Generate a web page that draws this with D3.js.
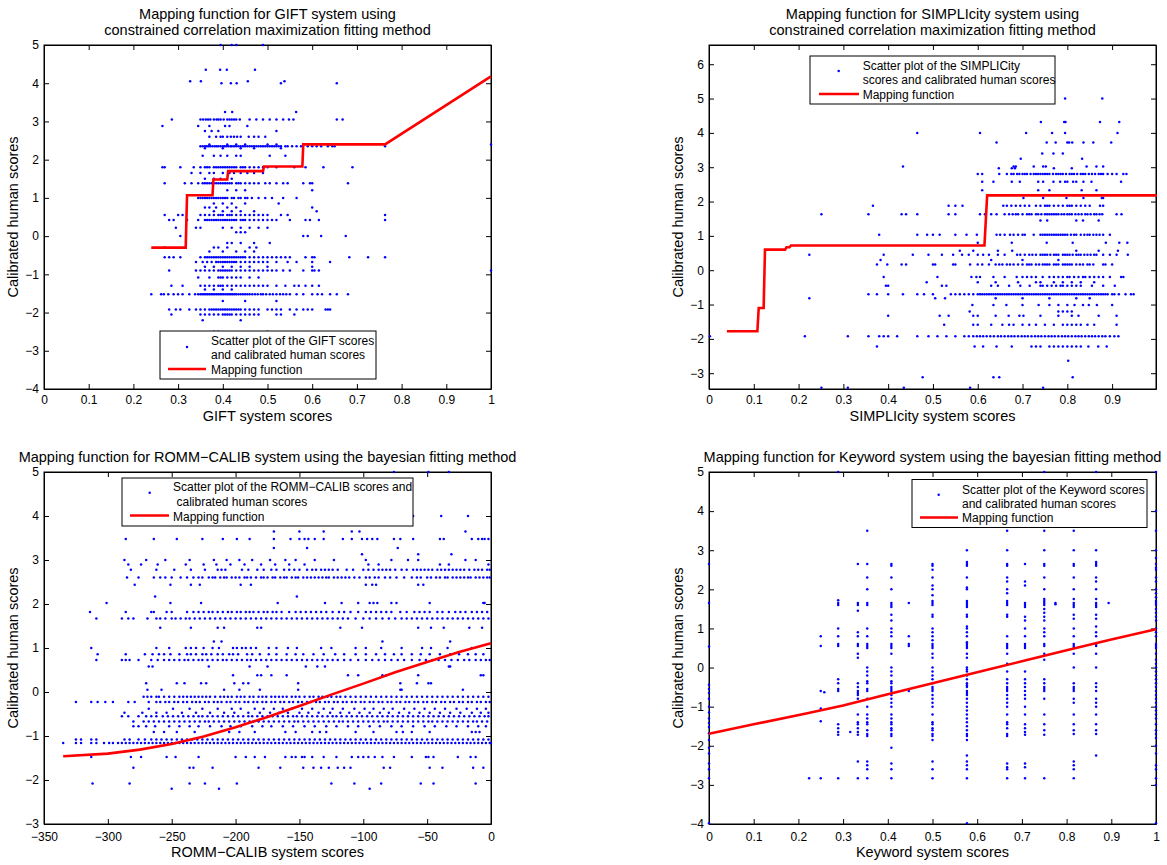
<!DOCTYPE html>
<html>
<head>
<meta charset="utf-8">
<script src="https://cdn.jsdelivr.net/npm/d3@7"></script>
<style>
body { margin: 0; background: #fff; }
text { font-family: "Liberation Sans", Arial, Helvetica, sans-serif; }
</style>
</head>
<body>
<script>
// ---------- GIFT panel (rows of points sharing one calibrated score) ----------
const giftXTicks = [0, 0.1, 0.2, 0.3, 0.4, 0.5, 0.6, 0.7, 0.8, 0.9, 1];
const giftYTicks = [-4, -3, -2, -1, 0, 1, 2, 3, 4, 5];
const giftRowY = [5, 4.35, 4.05, 4.0, 3.25, 3.05, 2.88, 2.75, 2.6, 2.4, 2.35, 2.3, 2.1, 1.8, 1.65, 1.5, 1.38, 1.2, 1.0, 0.85, 0.75, 0.65, 0.55, 0.42, 0.22, 0.1, 0, -0.18, -0.3, -0.4, -0.55, -0.68, -0.8, -0.9, -1.08, -1.3, -1.4, -1.52, -1.7, -1.92, -2.05, -2.2, -2.5];
const giftRowX = [
  [0.395, 0.42, 0.43, 0.49],
  [0.362, 0.394, 0.409, 0.472],
  [0.327, 0.351, 0.456, 0.538],
  [0.397, 0.418, 0.431, 0.53, 0.655],
  [0.405, 0.421, 0.564],
  [0.286, 0.35, 0.356, 0.362, 0.367, 0.372, 0.38, 0.386, 0.39, 0.395, 0.402, 0.41, 0.415, 0.42, 0.425, 0.43, 0.438, 0.46, 0.475, 0.49, 0.505, 0.52, 0.535, 0.548, 0.558, 0.655, 0.668],
  [0.265, 0.345, 0.37, 0.405, 0.415, 0.455],
  [0.36, 0.375, 0.39, 0.52],
  [0.37, 0.385, 0.395, 0.4, 0.41, 0.418, 0.425, 0.432, 0.44, 0.458, 0.47, 0.48, 0.495],
  [0.37, 0.41, 0.43, 0.45, 0.5, 0.52, 0.6, 0.64, 1.0],
  [0.35, 0.355, 0.36, 0.364, 0.368, 0.372, 0.377, 0.382, 0.386, 0.39, 0.395, 0.4, 0.404, 0.408, 0.412, 0.417, 0.42, 0.425, 0.43, 0.435, 0.44, 0.445, 0.45, 0.455, 0.46, 0.465, 0.47, 0.475, 0.48, 0.485, 0.49, 0.495, 0.5, 0.505, 0.51, 0.515, 0.52, 0.525, 0.53, 0.54, 0.545, 0.555, 0.565, 0.575, 0.59, 0.6, 0.61, 0.62, 0.635, 0.645, 0.65, 0.763],
  [0.36, 0.4, 0.44, 0.47, 0.53],
  [0.355, 0.38, 0.395, 0.41, 0.43, 0.44, 0.505, 0.54],
  [0.265, 0.27, 0.305, 0.335, 0.35, 0.36, 0.365, 0.37, 0.38, 0.385, 0.39, 0.395, 0.4, 0.405, 0.41, 0.415, 0.42, 0.425, 0.43, 0.44, 0.445, 0.45, 0.46, 0.47, 0.48, 0.49, 0.5, 0.52, 0.56, 0.585, 0.625, 0.69],
  [0.33, 0.35, 0.37, 0.38, 0.4, 0.415, 0.425, 0.44, 0.455, 0.47, 0.49],
  [0.36, 0.38, 0.395, 0.42],
  [0.27, 0.315, 0.33, 0.345, 0.355, 0.36, 0.365, 0.37, 0.375, 0.38, 0.385, 0.39, 0.395, 0.4, 0.405, 0.41, 0.415, 0.42, 0.43, 0.435, 0.44, 0.45, 0.46, 0.47, 0.48, 0.495, 0.505, 0.52, 0.535, 0.545, 0.58, 0.595, 0.6, 0.68],
  [0.41, 0.43, 0.45, 0.6],
  [0.345, 0.35, 0.355, 0.36, 0.365, 0.37, 0.375, 0.38, 0.385, 0.39, 0.395, 0.4, 0.405, 0.41, 0.42, 0.425, 0.435, 0.44, 0.45, 0.455, 0.465, 0.48, 0.495, 0.51, 0.535, 0.565],
  [0.38, 0.4, 0.42, 0.45, 0.525],
  [0.36, 0.37, 0.385, 0.41, 0.43, 0.6],
  [0.38, 0.4, 0.42, 0.44, 0.47, 0.61],
  [0.27, 0.3, 0.31, 0.35, 0.36, 0.37, 0.38, 0.39, 0.395, 0.4, 0.41, 0.415, 0.42, 0.43, 0.44, 0.45, 0.46, 0.47, 0.48, 0.49, 0.5, 0.53, 0.545, 0.763],
  [0.28, 0.29, 0.32, 0.345, 0.36, 0.365, 0.37, 0.375, 0.38, 0.385, 0.39, 0.395, 0.4, 0.405, 0.41, 0.415, 0.42, 0.425, 0.43, 0.44, 0.445, 0.45, 0.46, 0.47, 0.48, 0.49, 0.5, 0.51, 0.52, 0.55, 0.585, 0.595, 0.615, 0.763],
  [0.295, 0.34, 0.35, 0.4, 0.42, 0.44, 0.46, 0.48, 0.5],
  [0.43, 0.44, 0.45],
  [0.305, 0.58, 0.59, 0.62, 0.675],
  [0.41, 0.42, 0.44, 0.47, 0.505],
  [0.27, 0.38, 0.39, 0.41, 0.46, 0.475],
  [0.37, 0.4, 0.43, 0.45, 0.47],
  [0.27, 0.28, 0.29, 0.305, 0.35, 0.36, 0.365, 0.37, 0.375, 0.38, 0.385, 0.39, 0.395, 0.4, 0.405, 0.41, 0.415, 0.42, 0.425, 0.43, 0.435, 0.44, 0.445, 0.45, 0.46, 0.47, 0.48, 0.49, 0.5, 0.51, 0.52, 0.53, 0.54, 0.55, 0.585, 0.6, 0.605, 0.683, 0.725, 0.763],
  [0.34, 0.355, 0.365, 0.375, 0.385, 0.39, 0.395, 0.4, 0.405, 0.41, 0.415, 0.42, 0.425, 0.43, 0.44, 0.45, 0.46, 0.47, 0.48, 0.49, 0.5, 0.52, 0.545, 0.565, 0.6, 0.64],
  [0.36, 0.38, 0.4, 0.42, 0.44, 0.46, 0.5, 0.6],
  [0.28, 0.34, 0.35, 0.36, 0.37, 0.38, 0.39, 0.395, 0.4, 0.405, 0.41, 0.415, 0.42, 0.43, 0.44, 0.45, 0.46, 0.47, 0.48, 0.49, 0.5, 0.51, 0.52, 0.535, 0.55, 0.58, 0.6, 0.605, 0.615, 1.0],
  [0.345, 0.37, 0.39, 0.395, 0.4, 0.41, 0.42, 0.43, 0.44, 0.46, 0.48],
  [0.285, 0.31, 0.35, 0.36, 0.37, 0.38, 0.39, 0.395, 0.4, 0.41, 0.42, 0.43, 0.44, 0.45, 0.46, 0.47, 0.48, 0.49, 0.5, 0.52, 0.54, 0.56, 0.57, 0.585, 0.6, 0.615],
  [0.36, 0.38, 0.4, 0.42],
  [0.24, 0.262, 0.268, 0.278, 0.29, 0.3, 0.31, 0.325, 0.338, 0.345, 0.35, 0.354, 0.358, 0.362, 0.366, 0.37, 0.374, 0.378, 0.382, 0.386, 0.39, 0.394, 0.398, 0.402, 0.406, 0.41, 0.414, 0.418, 0.422, 0.426, 0.43, 0.435, 0.44, 0.445, 0.45, 0.455, 0.46, 0.466, 0.472, 0.478, 0.485, 0.49, 0.497, 0.505, 0.512, 0.52, 0.528, 0.535, 0.542, 0.55, 0.565, 0.58, 0.6, 0.612, 0.622, 0.64, 0.655, 0.68],
  [0.4, 0.45, 0.52],
  [0.28, 0.295, 0.305, 0.325, 0.34, 0.35, 0.36, 0.37, 0.375, 0.38, 0.385, 0.39, 0.395, 0.4, 0.405, 0.41, 0.415, 0.42, 0.425, 0.43, 0.435, 0.44, 0.45, 0.46, 0.47, 0.48, 0.5, 0.51, 0.52, 0.53, 0.55, 0.565, 0.58, 0.59, 0.6, 0.63, 0.635, 0.64],
  [0.285, 0.35, 0.36, 0.37, 0.38, 0.39, 0.4, 0.405, 0.41, 0.415, 0.42, 0.43, 0.44, 0.45, 0.46, 0.47, 0.48, 0.52, 0.53, 0.56],
  [0.355, 0.44],
  [0.38, 0.39, 0.5]
];
const giftMapX = [0.24, 0.317, 0.32, 0.377, 0.379, 0.41, 0.412, 0.49, 0.492, 0.578, 0.58, 0.763, 1.0];
const giftMapY = [-0.3, -0.3, 1.07, 1.07, 1.48, 1.48, 1.7, 1.7, 1.82, 1.82, 2.4, 2.4, 4.18];

// ---------- SIMPLIcity panel ----------
const simpXTicks = [0, 0.1, 0.2, 0.3, 0.4, 0.5, 0.6, 0.7, 0.8, 0.9];
const simpYTicks = [-3, -2, -1, 0, 1, 2, 3, 4, 5, 6];
const simpRowY = [5.0, 4.32, 4.0, 3.72, 3.4, 3.25, 3.02, 2.97, 2.8, 2.58, 2.33, 2.1, 1.88, 1.63, 1.45, 1.03, 0.8, 0.57, 0.45, 0.3, 0.17, -0.2, -0.35, -0.45, -0.7, -0.82, -1.01, -1.2, -1.33, -1.59, -1.92, -2.22, -2.64, -3.12, -3.42];
const simpRowX = [
  [0.795, 0.878],
  [0.741, 0.793, 0.796, 0.873, 0.916],
  [0.465, 0.605, 0.708, 0.766, 0.795, 0.912],
  [0.642, 0.754, 0.774, 0.8, 0.804, 0.811, 0.836, 0.858, 0.898],
  [0.744, 0.769, 0.79],
  [0.696, 0.833],
  [0.433, 0.68, 0.685, 0.725, 0.746, 0.752, 0.843, 0.865, 0.88],
  [0.647, 0.676, 0.683, 0.77, 0.81],
  [0.6, 0.61, 0.648, 0.665, 0.675, 0.68, 0.688, 0.693, 0.7, 0.705, 0.71, 0.718, 0.725, 0.73, 0.735, 0.74, 0.745, 0.75, 0.755, 0.76, 0.768, 0.775, 0.78, 0.785, 0.79, 0.797, 0.805, 0.81, 0.815, 0.822, 0.83, 0.835, 0.84, 0.848, 0.855, 0.862, 0.87, 0.875, 0.88, 0.89, 0.9, 0.91, 0.925, 0.932],
  [0.61, 0.635, 0.676, 0.694, 0.735, 0.746, 0.769, 0.784, 0.795, 0.8, 0.813, 0.82, 0.836, 0.854, 0.92],
  [0.61, 0.735, 0.76, 0.832, 0.865],
  [0.702, 0.746, 0.798, 0.836, 0.877, 0.88],
  [0.366, 0.535, 0.55, 0.566, 0.657, 0.665, 0.675, 0.685, 0.695, 0.705, 0.715, 0.73, 0.74, 0.75, 0.755, 0.76, 0.77, 0.78, 0.79, 0.8, 0.805, 0.81, 0.82, 0.83, 0.84, 0.85, 0.873, 0.88],
  [0.251, 0.356, 0.43, 0.44, 0.465, 0.535, 0.55, 0.605, 0.616, 0.63, 0.642, 0.66, 0.67, 0.678, 0.685, 0.69, 0.7, 0.71, 0.715, 0.72, 0.73, 0.735, 0.742, 0.75, 0.755, 0.76, 0.765, 0.77, 0.775, 0.78, 0.787, 0.793, 0.8, 0.805, 0.81, 0.818, 0.825, 0.832, 0.84, 0.845, 0.852, 0.86, 0.865, 0.872, 0.878, 0.91, 0.921],
  [0.74, 0.755, 0.82, 0.835, 0.87],
  [0.38, 0.465, 0.487, 0.5, 0.515, 0.55, 0.575, 0.598, 0.642, 0.65, 0.66, 0.672, 0.68, 0.69, 0.7, 0.705, 0.725, 0.74, 0.745, 0.75, 0.755, 0.76, 0.765, 0.77, 0.775, 0.78, 0.785, 0.79, 0.795, 0.8, 0.808, 0.815, 0.82, 0.83, 0.838, 0.845, 0.85, 0.858, 0.865, 0.872, 0.88, 0.895],
  [0.6, 0.676, 0.754, 0.812, 0.886, 0.916, 0.934],
  [0.56, 0.59, 0.645, 0.677, 0.82, 0.87, 0.913],
  [0.224, 0.39, 0.455, 0.49, 0.52, 0.545, 0.565, 0.58, 0.6, 0.612, 0.625, 0.645, 0.66, 0.688, 0.695, 0.705, 0.715, 0.722, 0.73, 0.74, 0.745, 0.75, 0.755, 0.762, 0.77, 0.775, 0.78, 0.79, 0.795, 0.8, 0.805, 0.812, 0.82, 0.825, 0.83, 0.838, 0.845, 0.852, 0.86, 0.865, 0.88, 0.895, 0.91, 0.935],
  [0.383, 0.63, 0.7, 0.78],
  [0.375, 0.398, 0.43, 0.44, 0.5, 0.505, 0.545, 0.55, 0.583, 0.6, 0.61, 0.625, 0.64, 0.648, 0.655, 0.665, 0.672, 0.68, 0.69, 0.7, 0.71, 0.715, 0.72, 0.73, 0.737, 0.745, 0.75, 0.755, 0.76, 0.77, 0.775, 0.78, 0.79, 0.795, 0.8, 0.805, 0.81, 0.82, 0.828, 0.835, 0.845, 0.85, 0.858, 0.88, 0.885, 0.9],
  [0.39, 0.51, 0.586, 0.597, 0.605, 0.635, 0.66, 0.687, 0.7, 0.71, 0.72, 0.73, 0.745, 0.76, 0.77, 0.78, 0.79, 0.8, 0.805, 0.815, 0.825, 0.835, 0.84, 0.85, 0.86, 0.87, 0.88, 0.895, 0.92, 0.925],
  [0.486, 0.6, 0.64, 0.69, 0.73, 0.74, 0.77, 0.79, 0.81, 0.83, 0.86],
  [0.395, 0.4, 0.52, 0.53, 0.63, 0.645, 0.67, 0.695, 0.716, 0.74, 0.745, 0.755, 0.765, 0.775, 0.785, 0.79, 0.8, 0.81, 0.82, 0.83, 0.855, 0.88, 0.906],
  [0.356, 0.375, 0.4, 0.433, 0.465, 0.48, 0.5, 0.54, 0.55, 0.56, 0.57, 0.58, 0.59, 0.6, 0.605, 0.61, 0.615, 0.62, 0.625, 0.63, 0.635, 0.64, 0.645, 0.65, 0.655, 0.66, 0.665, 0.67, 0.675, 0.68, 0.685, 0.69, 0.695, 0.7, 0.705, 0.71, 0.715, 0.72, 0.725, 0.73, 0.735, 0.74, 0.745, 0.75, 0.755, 0.76, 0.765, 0.77, 0.775, 0.78, 0.785, 0.79, 0.795, 0.8, 0.805, 0.81, 0.815, 0.82, 0.825, 0.83, 0.835, 0.84, 0.845, 0.85, 0.855, 0.86, 0.865, 0.87, 0.875, 0.88, 0.885, 0.89, 0.9, 0.905, 0.915, 0.93, 0.942, 0.948],
  [0.224, 0.505, 0.527, 0.64, 0.7, 0.76, 0.82, 0.85],
  [0.588, 0.635, 0.664, 0.7, 0.736, 0.76, 0.78, 0.8, 0.816, 0.835, 0.848, 0.866, 0.9],
  [0.582, 0.78, 0.79, 0.8, 0.81],
  [0.4, 0.515, 0.535, 0.59, 0.6, 0.64, 0.669, 0.693, 0.702, 0.74, 0.78, 0.81, 0.825, 0.87, 0.91],
  [0.525, 0.59, 0.6, 0.63, 0.655, 0.67, 0.68, 0.7, 0.715, 0.73, 0.75, 0.77, 0.79, 0.8, 0.81, 0.82, 0.83, 0.845, 0.86, 0.91],
  [0.002, 0.214, 0.31, 0.356, 0.38, 0.39, 0.4, 0.42, 0.465, 0.49, 0.51, 0.53, 0.55, 0.57, 0.58, 0.59, 0.598, 0.605, 0.612, 0.62, 0.628, 0.636, 0.645, 0.652, 0.66, 0.668, 0.675, 0.682, 0.69, 0.698, 0.705, 0.712, 0.72, 0.728, 0.735, 0.742, 0.75, 0.758, 0.765, 0.772, 0.78, 0.788, 0.795, 0.802, 0.81, 0.818, 0.825, 0.832, 0.84, 0.848, 0.855, 0.862, 0.87, 0.878, 0.885, 0.895, 0.905, 0.914],
  [0.375, 0.593, 0.612, 0.642, 0.676, 0.72, 0.73, 0.74, 0.76, 0.77, 0.78, 0.79, 0.8, 0.81, 0.82, 0.83, 0.847, 0.869, 0.888],
  [0.802],
  [0.477, 0.635, 0.648, 0.812],
  [0.251, 0.31, 0.435, 0.583, 0.746]
];
const simpMapX = [0.04, 0.108, 0.111, 0.122, 0.125, 0.17, 0.173, 0.18, 0.183, 0.615, 0.621, 1.0];
const simpMapY = [-1.78, -1.78, -1.1, -1.1, 0.6, 0.6, 0.67, 0.67, 0.72, 0.72, 2.18, 2.18];

// ---------- ROMM-CALIB panel ----------
const rommXTicks = [-350, -300, -250, -200, -150, -100, -50, 0];
const rommYTicks = [-3, -2, -1, 0, 1, 2, 3, 4, 5];
const rommRowY = [5.0, 4.0, 3.65, 3.48, 3.27, 3.13, 3.0, 2.9, 2.78, 2.6, 2.44, 2.17, 2.02, 1.82, 1.67, 1.46, 1.15, 1.0, 0.86, 0.73, 0.58, 0.38, 0.2, 0.05, -0.11, -0.23, -0.38, -0.47, -0.55, -0.67, -0.78, -0.91, -1.08, -1.16, -1.48, -1.72, -2.08, -2.2];
const rommRowX = [
  [-76, -49, -33],
  [-61, -39, -18],
  [-170, -150, -131, -109, -103, -20],
  [-286, -264, -246, -226, -210, -199, -189, -170, -157, -150, -146, -143, -138, -131, -116, -109, -101, -97, -93, -89, -76, -71, -61, -40, -37, -15, -10, -7, -5, -2],
  [-170, -144, -73],
  [-101, -57, -31],
  [-287, -270, -255, -236, -217, -207, -197, -187, -173, -161, -153, -138, -123, -98, -78, -65, -57, -20, -12],
  [-284, -274, -261, -239, -225, -215, -204, -193, -180, -169, -158, -146, -96, -88, -40, -33, -2],
  [-282, -262, -248, -235, -224, -214, -211, -208, -195, -190, -183, -178, -172, -168, -162, -158, -154, -150, -144, -140, -137, -133, -130, -127, -124, -120, -113, -108, -100, -96, -92, -88, -85, -82, -79, -75, -70, -66, -61, -58, -55, -52, -49, -46, -42, -39, -36, -33, -30, -27, -24, -21, -17, -13, -10, -7, -3, -1],
  [-285, -276, -264, -259, -255, -250, -243, -238, -233, -229, -226, -221, -218, -216, -212, -209, -207, -203, -200, -197, -193, -191, -188, -184, -180, -178, -175, -171, -169, -165, -162, -160, -156, -153, -151, -147, -144, -141, -138, -135, -132, -129, -127, -123, -120, -117, -114, -111, -107, -103, -98, -95, -91, -88, -83, -79, -74, -68, -62, -58, -55, -50, -47, -43, -40, -36, -34, -30, -27, -24, -21, -18, -16, -12, -9, -6, -3, -1],
  [-279, -251, -235, -228, -196, -188, -98, -93, -90, -57, -53],
  [-263, -152],
  [-301, -251, -227, -167, -130, -117, -104, -95, -92, -89, -78, -74, -48, -6, -5],
  [-314, -286, -266, -264, -254, -250, -238, -233, -229, -225, -221, -218, -214, -210, -206, -203, -199, -196, -192, -189, -186, -182, -178, -175, -171, -168, -164, -158, -153, -149, -145, -141, -137, -133, -129, -124, -119, -115, -110, -104, -98, -94, -90, -86, -82, -78, -71, -66, -60, -56, -52, -48, -42, -38, -33, -28, -24, -20, -15, -11, -7, -3],
  [-309, -289, -284, -280, -269, -262, -259, -255, -250, -247, -243, -239, -236, -232, -228, -224, -220, -216, -212, -208, -204, -200, -196, -192, -188, -184, -180, -176, -172, -168, -164, -160, -156, -152, -148, -144, -140, -136, -132, -128, -124, -120, -116, -112, -106, -100, -95, -90, -85, -80, -75, -70, -66, -62, -58, -54, -50, -46, -42, -38, -34, -30, -26, -22, -18, -14, -10, -6, -2],
  [-259, -235, -214, -209, -183, -180, -118, -101, -57, -47, -37, -17, -7],
  [-217, -211, -85, -32],
  [-313, -262, -252, -239, -235, -231, -225, -218, -213, -202, -199, -195, -192, -188, -184, -174, -168, -159, -152, -133, -125, -106, -98, -86, -70, -54, -47, -34, -15],
  [-308, -286, -271, -265, -260, -256, -251, -244, -238, -235, -231, -226, -223, -219, -214, -210, -205, -202, -198, -191, -187, -181, -174, -168, -160, -153, -147, -139, -131, -122, -115, -106, -98, -90, -83, -76, -70, -62, -55, -48, -40, -32, -25, -18, -12, -6],
  [-309, -289, -286, -283, -276, -266, -261, -256, -252, -248, -244, -240, -237, -233, -229, -226, -222, -218, -214, -210, -207, -203, -199, -195, -191, -188, -184, -180, -176, -172, -168, -164, -160, -156, -152, -148, -144, -140, -136, -132, -128, -124, -120, -115, -110, -104, -98, -93, -88, -83, -78, -73, -68, -62, -56, -51, -46, -41, -36, -31, -26, -21, -17, -12, -8, -4, -1],
  [-268, -265, -221, -189, -175, -145, -136, -130, -33, -32],
  [-202, -183, -180, -172, -160, -112, -104, -85, -82, -57, -8, -6],
  [-270, -246, -240, -227, -223, -201, -194, -190, -151, -71, -58, -49, -47],
  [-269, -258, -209, -197, -181, -151, -71, -70, -22],
  [-272, -269, -266, -262, -260, -256, -252, -248, -244, -241, -238, -235, -232, -229, -226, -223, -220, -216, -212, -209, -206, -203, -199, -196, -193, -189, -186, -182, -179, -176, -172, -169, -166, -163, -160, -156, -153, -150, -146, -142, -139, -135, -132, -128, -125, -121, -118, -114, -110, -106, -102, -98, -94, -90, -86, -82, -78, -74, -70, -66, -62, -58, -54, -50, -46, -42, -38, -34, -30, -26, -22, -18, -14, -10, -6, -2],
  [-325, -313, -308, -302, -296, -284, -279, -268, -262, -259, -255, -252, -248, -245, -241, -238, -234, -231, -228, -224, -221, -217, -214, -211, -207, -204, -200, -197, -193, -190, -186, -183, -179, -176, -172, -169, -165, -162, -158, -155, -151, -148, -144, -141, -137, -134, -130, -127, -123, -120, -116, -113, -109, -106, -102, -99, -95, -92, -88, -85, -81, -78, -74, -71, -67, -64, -60, -57, -53, -50, -46, -43, -39, -36, -32, -29, -25, -22, -18, -15, -11, -8, -4, -1],
  [-268, -249, -236, -226, -214, -203, -196, -185, -178, -170, -163, -156, -148, -140, -131, -124, -116, -107, -99, -92, -84, -77, -68, -60, -52, -44, -36, -27, -19, -11, -4],
  [-287, -273, -262, -254, -242, -231, -220, -209, -201, -190, -181, -173, -166, -159, -150, -143, -135, -126, -118, -111, -103, -95, -87, -80, -72, -64, -56, -48, -40, -32, -24, -15, -8, -2],
  [-289, -284, -276, -270, -266, -262, -257, -253, -249, -245, -241, -237, -233, -229, -226, -222, -218, -214, -210, -206, -202, -198, -194, -190, -187, -183, -179, -175, -171, -167, -163, -159, -155, -152, -148, -144, -140, -136, -132, -128, -124, -121, -117, -113, -109, -105, -101, -97, -93, -89, -85, -81, -77, -73, -69, -65, -61, -57, -53, -49, -45, -41, -37, -33, -29, -25, -21, -17, -13, -9, -5, -2],
  [-280, -272, -268, -264, -260, -256, -252, -248, -244, -240, -236, -232, -228, -224, -221, -217, -213, -209, -205, -201, -197, -193, -189, -186, -182, -178, -174, -170, -166, -162, -158, -154, -151, -147, -143, -139, -135, -131, -127, -123, -119, -116, -112, -108, -104, -100, -96, -92, -88, -84, -81, -77, -73, -69, -65, -61, -57, -53, -49, -46, -42, -38, -34, -30, -26, -22, -18, -14, -11, -7, -3],
  [-280, -276, -270, -263, -252, -244, -236, -229, -220, -211, -204, -196, -187, -179, -172, -163, -155, -146, -138, -129, -121, -112, -104, -95, -87, -78, -70, -61, -52, -44, -35, -27, -18, -10, -4],
  [-264, -256, -246, -232, -205, -197, -185, -161, -153, -140, -134, -129, -106, -92, -74, -69, -62, -48, -15, -12, -9],
  [-325, -321, -313, -309, -287, -283, -276, -271, -266, -262, -258, -254, -250, -246, -242, -238, -234, -230, -226, -222, -218, -214, -210, -206, -202, -198, -194, -190, -186, -182, -178, -174, -170, -166, -162, -158, -154, -150, -146, -142, -138, -134, -130, -126, -122, -118, -114, -110, -106, -102, -98, -94, -90, -86, -82, -78, -74, -70, -66, -62, -58, -54, -50, -46, -42, -38, -34, -30, -26, -22, -18, -14, -10, -6, -2],
  [-335, -325, -321, -313, -309, -303, -299, -296, -292, -289, -286, -283, -280, -277, -274, -271, -268, -265, -262, -259, -256, -253, -250, -247, -244, -241, -238, -235, -232, -229, -226, -223, -220, -217, -214, -211, -208, -205, -202, -199, -196, -193, -190, -187, -184, -181, -178, -175, -172, -169, -166, -163, -160, -157, -154, -151, -148, -145, -142, -139, -136, -133, -130, -127, -124, -121, -118, -115, -112, -109, -106, -103, -100, -97, -94, -91, -88, -85, -82, -79, -76, -73, -70, -67, -64, -61, -58, -55, -52, -49, -46, -43, -40, -37, -34, -31, -28, -25, -22, -19, -16, -13, -10, -7, -4, -1, 0],
  [-313, -282, -274, -254, -247, -229, -200, -192, -185, -177, -161, -156, -153, -148, -146, -140, -131, -121, -109, -104, -100, -96, -91, -85, -76, -62, -51, -49, -45, -26, -16, -12],
  [-280, -236, -233, -218, -182, -165, -147, -139, -133, -127, -120, -115, -110, -84, -79, -48, -38, -14, -6],
  [-312, -283, -236, -224, -199, -125, -107, -86, -55, -45, -12],
  [-250, -213, -95]
];
const rommMapX = [-335, -300, -275, -250, -225, -200, -175, -150, -125, -100, -75, -50, -25, 0];
const rommMapY = [-1.46, -1.40, -1.31, -1.18, -1.01, -0.80, -0.57, -0.32, -0.06, 0.19, 0.45, 0.68, 0.91, 1.11];

// ---------- Keyword panel (columns of points sharing one keyword score) ----------
const kwXTicks = [0, 0.1, 0.2, 0.3, 0.4, 0.5, 0.6, 0.7, 0.8, 0.9, 1];
const kwYTicks = [-4, -3, -2, -1, 0, 1, 2, 3, 4, 5];
const kwColX = [0, 0.224, 0.25, 0.258, 0.289, 0.316, 0.333, 0.354, 0.408, 0.447, 0.5, 0.577, 0.667, 0.707, 0.75, 0.775, 0.816, 0.866, 0.894, 1];
const kwColY = [
  [2.65, 1.65, 0.54, -0.44, -0.55, -0.65, -0.8, -1.0, -1.15, -1.3, -1.42, -1.52, -1.68, -1.85, -2.05, -2.2, -2.45, -2.6, -2.83, -3.98],
  [-2.83],
  [0.8, 0.55, -0.6, -1.05, -1.37, -2.83],
  [-0.63],
  [5.0, 1.72, 1.65, 1.6, 1.0, 0.8, 0.6, 0.55, -0.3, -0.4, -0.55, -0.6, -1.45, -1.55, -1.65, -1.72, -2.83],
  [-1.65],
  [2.65, 1.65, 1.6, 1.45, 0.9, 0.8, 0.6, 0.55, 0.35, 0.25, -0.4, -0.5, -0.6, -0.65, -0.7, -0.8, -1.2, -1.4, -1.45, -1.55, -1.65, -1.72, -2.4, -2.83],
  [3.5, 2.65, 2.3, 2.0, 1.65, 1.6, 1.0, 0.8, 0.6, 0.55, 0.5, 0, -0.1, -0.2, -0.35, -0.4, -0.55, -0.6, -0.8, -1.0, -1.2, -1.3, -1.4, -1.45, -1.6, -1.7, -1.75, -2.4, -2.5, -2.6, -2.83],
  [2.65, 2.6, 2.3, 2.0, 1.65, 1.6, 1.55, 1.35, 1.2, 1.0, 0.9, 0.8, 0.6, 0.55, 0.5, 0.35, 0, -0.1, -0.2, -0.35, -0.4, -0.5, -0.55, -0.6, -0.7, -0.8, -0.9, -1.0, -1.2, -1.3, -1.4, -1.45, -1.55, -1.6, -1.7, -1.75, -2.05, -2.45, -2.6, -2.83],
  [1.65, 0.8, 0.6, 0.55, -0.6],
  [2.65, 2.6, 2.5, 2.3, 2.1, 2.0, 1.85, 1.7, 1.65, 1.6, 1.35, 1.3, 1.0, 0.9, 0.8, 0.7, 0.6, 0.55, 0.5, 0.35, 0.25, 0, -0.1, -0.2, -0.3, -0.4, -0.5, -0.55, -0.6, -0.7, -0.8, -0.9, -1.0, -1.2, -1.4, -1.45, -1.55, -1.6, -1.7, -1.75, -1.85, -2.4, -2.6, -2.83],
  [3.0, 2.7, 2.65, 2.6, 2.3, 2.05, 2.0, 1.7, 1.65, 1.6, 1.55, 1.35, 1.3, 1.05, 1.0, 0.9, 0.8, 0.65, 0.6, 0.55, 0.5, 0.35, 0.25, 0, -0.05, -0.1, -0.2, -0.3, -0.4, -0.45, -0.5, -0.6, -0.65, -0.7, -0.8, -0.9, -1.0, -1.1, -1.2, -1.3, -1.4, -1.5, -1.6, -1.7, -1.75, -1.85, -2.25, -2.4, -2.5, -2.6, -2.83, -3.98],
  [3.5, 3.0, 2.65, 2.6, 2.3, 2.2, 2.0, 1.9, 1.7, 1.65, 1.6, 1.35, 1.3, 0.8, 0.6, 0.55, 0.5, 0.35, 0.1, -0.1, -0.3, -0.4, -0.5, -0.55, -0.6, -0.7, -0.8, -0.9, -1.0, -1.2, -1.4, -1.45, -1.55, -1.7, -1.75, -2.45, -2.55, -2.6, -2.83],
  [2.65, 2.2, 2.1, 1.65, 1.6, 1.55, 1.3, 1.2, 1.0, 0.8, 0.6, 0.55, 0.5, -0.1, -0.3, -0.4, -0.5, -0.6, -0.7, -0.8, -1.0, -1.2, -1.45, -1.55, -1.65, -1.72, -2.45, -2.55, -2.83],
  [5.0, 3.5, 3.0, 2.65, 2.6, 2.3, 2.0, 1.75, 1.7, 1.65, 1.6, 1.5, 1.4, 1.3, 1.2, 1.0, 0.9, 0.8, 0.6, 0.55, 0.35, 0.2, -0.3, -0.4, -0.5, -0.55, -0.6, -0.8, -1.2, -1.45, -1.6, -1.72, -2.83],
  [1.65, 1.62],
  [3.5, 3.0, 2.65, 2.6, 2.3, 2.0, 1.75, 1.65, 1.6, 1.55, 1.35, 1.25, 1.0, 0.8, 0.6, 0.55, 0.5, 0.35, 0, -0.4, -0.5, -0.55, -0.6, -0.8, -0.9, -1.2, -1.45, -1.6, -1.7, -2.4, -2.5, -2.6, -2.83],
  [5.0, 3.0, 2.7, 2.65, 2.6, 2.3, 2.2, 2.0, 1.75, 1.65, 1.6, 1.55, 1.35, 1.25, 1.05, 0.9, 0.8, 0.6, 0.55, 0.35, 0, -0.4, -0.5, -0.6, -0.8, -0.9, -1.0, -1.2, -1.45, -1.6, -1.7, -2.25],
  [1.65],
  [5.0, 4.0, 3.5, 3.0, 2.8, 2.65, 2.55, 2.5, 2.3, 2.2, 2.0, 1.9, 1.8, 1.7, 1.65, 1.6, 1.5, 1.4, 1.3, 1.2, 1.0, 0.9, 0.8, 0.6, 0.55, 0.5, 0.35, 0.2, 0.1, 0, -0.1, -0.2, -0.3, -0.4, -0.5, -0.6, -0.7, -0.8, -0.9, -1.0, -1.1, -1.2, -1.3, -1.45, -1.6, -1.7, -1.8, -2.0, -2.2, -2.5, -2.6, -2.83, -3.0, -3.98]
];
const kwMapX = [0, 0.1, 0.22, 0.3, 0.4, 0.5, 0.6, 0.7, 0.8, 0.9, 1];
const kwMapY = [-1.69, -1.45, -1.17, -0.97, -0.68, -0.40, -0.12, 0.16, 0.44, 0.72, 0.98];

// ---------- drawing ----------
const svg = d3.select('body').append('svg').attr('width', 1167).attr('height', 865);
const fmt = v => (v < 0 ? '\u2212' : '') + String(+Math.abs(v).toFixed(3));
const rowsToPoints = (ys, xs) => ys.flatMap((y, i) => xs[i].map(x => [x, y]));
const colsToPoints = (xs, ys) => xs.flatMap((x, i) => ys[i].map(y => [x, y]));
const DOT_R = 1.25;

function panel(p) {
  const x = d3.scaleLinear().domain(p.xDomain).range([p.left, p.right]);
  const y = d3.scaleLinear().domain(p.yDomain).range([p.bottom, p.top]);
  const g = svg.append('g');

  const styleAxis = sel => {
    sel.attr('font-size', 12).attr('font-family', '"Liberation Sans", Arial, sans-serif');
    sel.selectAll('line, path').attr('stroke', '#000');
    sel.selectAll('text').attr('fill', '#000');
  };
  g.append('g').attr('transform', `translate(0,${p.bottom})`)
    .call(d3.axisBottom(x).tickValues(p.xTicks).tickFormat(fmt).tickSizeInner(-5).tickSizeOuter(0).tickPadding(p.xPad)).call(styleAxis);
  g.append('g').attr('transform', `translate(0,${p.top})`)
    .call(d3.axisTop(x).tickValues(p.xTicks).tickFormat('').tickSizeInner(-5).tickSizeOuter(0)).call(styleAxis);
  g.append('g').attr('transform', `translate(${p.left},0)`)
    .call(d3.axisLeft(y).tickValues(p.yTicks).tickFormat(fmt).tickSizeInner(-5).tickSizeOuter(0).tickPadding(5)).call(styleAxis);
  g.append('g').attr('transform', `translate(${p.right},0)`)
    .call(d3.axisRight(y).tickValues(p.yTicks).tickFormat('').tickSizeInner(-5).tickSizeOuter(0)).call(styleAxis);
  g.append('rect').attr('x', p.left).attr('y', p.top)
    .attr('width', p.right - p.left).attr('height', p.bottom - p.top)
    .attr('fill', 'none').attr('stroke', '#000').attr('stroke-width', 1);

  g.append('g').selectAll('circle').data(p.points).join('circle')
    .attr('cx', d => x(d[0])).attr('cy', d => y(d[1])).attr('r', DOT_R).attr('fill', '#0000ff');

  g.append('path').datum(d3.zip(p.mapX, p.mapY))
    .attr('fill', 'none').attr('stroke', '#ff0000').attr('stroke-width', 2.6)
    .attr('d', d3.line().x(d => x(d[0])).y(d => y(d[1])));

  const cx = (p.left + p.right) / 2;
  p.title.forEach((t, i) => g.append('text').attr('x', cx).attr('y', p.titleY + i * 16)
    .attr('text-anchor', 'middle').attr('font-size', 14.5).text(t));
  g.append('text').attr('x', cx).attr('y', p.xLabelY).attr('text-anchor', 'middle')
    .attr('font-size', 14.5).text(p.xLabel);
  g.append('text').attr('transform', `translate(${p.left - 26},${(p.top + p.bottom) / 2}) rotate(-90)`)
    .attr('text-anchor', 'middle').attr('font-size', 14.5).text('Calibrated human scores');

  const L = p.legend;
  const lg = g.append('g');
  lg.append('rect').attr('x', L.x0).attr('y', L.y0).attr('width', L.x1 - L.x0).attr('height', L.y1 - L.y0)
    .attr('fill', '#fff').attr('stroke', '#000').attr('stroke-width', 1);
  lg.append('circle').attr('cx', L.dotX).attr('cy', L.dotY).attr('r', DOT_R).attr('fill', '#0000ff');
  lg.append('line').attr('x1', L.lineX0).attr('x2', L.lineX1).attr('y1', L.lineY).attr('y2', L.lineY)
    .attr('stroke', '#ff0000').attr('stroke-width', 2.6);
  L.texts.forEach((t, i) => lg.append('text').attr('x', L.textX + (L.indent[i] || 0)).attr('y', L.textY[i])
    .attr('font-size', 12).text(t));
}

panel({
  left: 44, right: 491, top: 45, bottom: 389, xDomain: [0, 1], yDomain: [-4, 5],
  xTicks: giftXTicks, yTicks: giftYTicks, points: rowsToPoints(giftRowY, giftRowX), xPad: 6,
  mapX: giftMapX, mapY: giftMapY,
  title: ['Mapping function for GIFT system using', 'constrained correlation maximization fitting method'], titleY: 19,
  xLabel: 'GIFT system scores', xLabelY: 421,
  legend: { x0: 160, y0: 331, x1: 376, y1: 379, dotX: 187, dotY: 347, lineX0: 168, lineX1: 206, lineY: 369,
    textX: 211, textY: [344.5, 358.5, 373.5], indent: [],
    texts: ['Scatter plot of the GIFT scores', 'and calibrated human scores', 'Mapping function'] }
});

panel({
  left: 709, right: 1156, top: 45, bottom: 389, xDomain: [0, 0.998], yDomain: [-3.46, 6.56],
  xTicks: simpXTicks, yTicks: simpYTicks, points: rowsToPoints(simpRowY, simpRowX), xPad: 6,
  mapX: simpMapX, mapY: simpMapY,
  title: ['Mapping function for SIMPLIcity system using', 'constrained correlation maximization fitting method'], titleY: 19,
  xLabel: 'SIMPLIcity system scores', xLabelY: 421,
  legend: { x0: 810, y0: 56, x1: 1055, y1: 104, dotX: 838.7, dotY: 71, lineX0: 819, lineX1: 859, lineY: 94,
    textX: 862.7, textY: [69.5, 83.5, 98.5], indent: [],
    texts: ['Scatter plot of the SIMPLICity', 'scores and calibrated human scores', 'Mapping function'] }
});

panel({
  left: 44, right: 491, top: 472, bottom: 824, xDomain: [-350, 0], yDomain: [-3, 5],
  xTicks: rommXTicks, yTicks: rommYTicks, points: rowsToPoints(rommRowY, rommRowX), xPad: 8,
  mapX: rommMapX, mapY: rommMapY,
  title: ['Mapping function for ROMM\u2212CALIB system using the bayesian fitting method'], titleY: 462,
  xLabel: 'ROMM\u2212CALIB system scores', xLabelY: 857,
  legend: { x0: 122, y0: 478, x1: 413, y1: 526, dotX: 149.7, dotY: 492.7, lineX0: 130, lineX1: 169, lineY: 515.5,
    textX: 173, textY: [491, 505.5, 520.5], indent: [0, 3.5, 0],
    texts: ['Scatter plot of the ROMM\u2212CALIB scores and', 'calibrated human scores', 'Mapping function'] }
});

panel({
  left: 709, right: 1156, top: 472, bottom: 824, xDomain: [0, 1], yDomain: [-4, 5],
  xTicks: kwXTicks, yTicks: kwYTicks, points: colsToPoints(kwColX, kwColY), xPad: 8,
  mapX: kwMapX, mapY: kwMapY,
  title: ['Mapping function for Keyword system using the bayesian fitting method'], titleY: 462,
  xLabel: 'Keyword system scores', xLabelY: 857,
  legend: { x0: 912, y0: 479.5, x1: 1147, y1: 527.5, dotX: 938.7, dotY: 494.7, lineX0: 920, lineX1: 958, lineY: 517.5,
    textX: 962, textY: [493.5, 507.5, 522], indent: [],
    texts: ['Scatter plot of the Keyword scores', 'and calibrated human scores', 'Mapping function'] }
});
</script>
</body>
</html>
